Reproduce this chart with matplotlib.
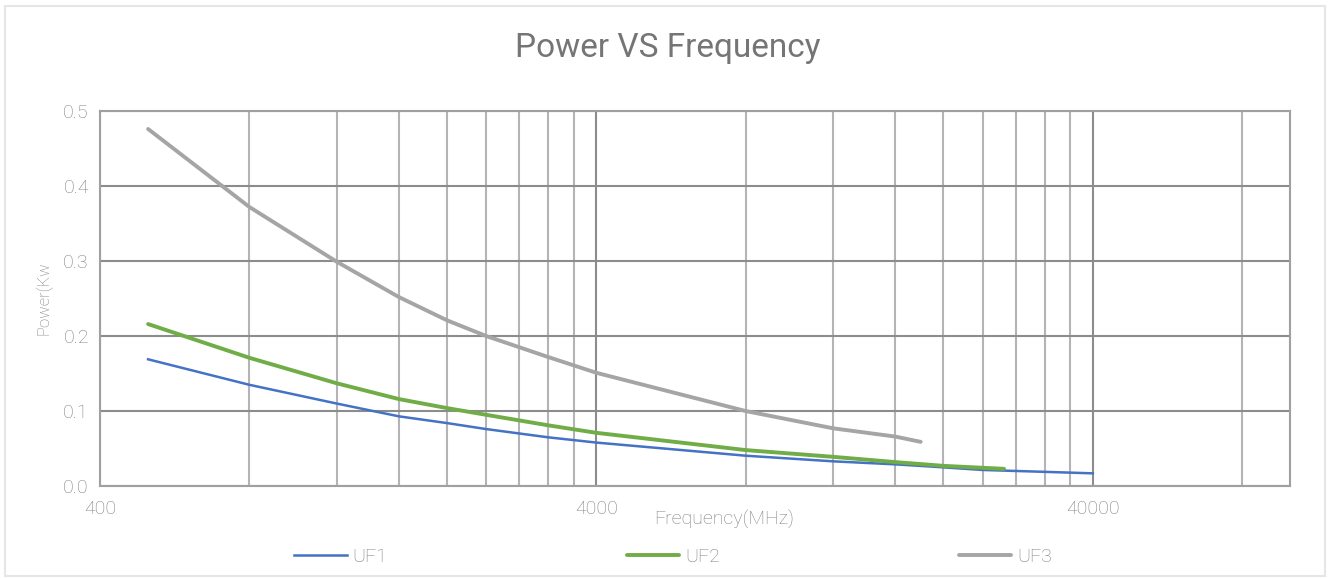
import matplotlib.pyplot as plt
import matplotlib.ticker as mticker
from matplotlib.patches import Rectangle
import numpy as np

plt.rcParams['font.family'] = ['Roboto', 'DejaVu Sans']
plt.rcParams['font.weight'] = 'light'

# values (frequency in MHz, power in kW)
freq_uf1 = [500, 800, 1200, 1600, 2000, 2400, 3200, 4000, 8000, 12000, 16000, 20000, 24000, 32000, 40000]
power_uf1 = [0.169, 0.135, 0.110, 0.093, 0.084, 0.076, 0.065, 0.058, 0.0405, 0.033, 0.029, 0.025, 0.0215, 0.019, 0.017]

freq_uf2 = [500, 800, 1200, 1600, 2000, 2400, 3200, 4000, 8000, 12000, 16000, 20000, 26500]
power_uf2 = [0.216, 0.171, 0.137, 0.116, 0.104, 0.095, 0.081, 0.071, 0.048, 0.039, 0.032, 0.027, 0.023]

freq_uf3 = [500, 800, 1200, 1600, 2000, 2400, 3200, 4000, 8000, 12000, 16000, 18000]
power_uf3 = [0.476, 0.372, 0.299, 0.252, 0.221, 0.200, 0.172, 0.151, 0.100, 0.077, 0.066, 0.059]

major_ticks = [400, 4000, 40000]
y_ticks = [0.0, 0.1, 0.2, 0.3, 0.4, 0.5]

txt = '#808080'

fig = plt.figure(figsize=(13.33, 5.78), dpi=100)
fig.patches.append(Rectangle((0.004, 0.004), 0.99, 0.985, transform=fig.transFigure,
                             fill=False, edgecolor='#e6e6e6', lw=1.5))
ax = fig.add_axes([0.075, 0.159, 0.893, 0.649])

ax.plot(freq_uf1, power_uf1, color='#4472C4', lw=1.8, label='UF1')
ax.plot(freq_uf2, power_uf2, color='#70AD47', lw=2.8, label='UF2', solid_capstyle='round')
ax.plot(freq_uf3, power_uf3, color='#A5A5A5', lw=2.8, label='UF3', solid_capstyle='round')

ax.set_xscale('log')
ax.set_xlim(400, 100000)
ax.set_ylim(0, 0.5)
ax.xaxis.set_major_locator(mticker.FixedLocator(major_ticks))
ax.xaxis.set_major_formatter(mticker.FixedFormatter([str(t) for t in major_ticks]))
minors = [m * 400 * 10 ** d for d in range(3) for m in range(2, 10)]
ax.xaxis.set_minor_locator(mticker.FixedLocator(minors))
ax.xaxis.set_minor_formatter(mticker.NullFormatter())
ax.set_yticks(y_ticks)
ax.yaxis.set_major_formatter(mticker.FormatStrFormatter('%.1f'))

ax.grid(True, which='major', axis='both', color='#8c8c8c', lw=1.5)
ax.grid(True, which='minor', axis='x', color='#b4b4b8', lw=1.5)
ax.set_axisbelow(True)
for s in ax.spines.values():
    s.set_color('#a0a0a0')
    s.set_linewidth(1.5)
ax.tick_params(which='both', length=0, colors=txt, labelsize=14)
ax.tick_params(axis='x', pad=10)
ax.tick_params(axis='y', pad=8)

fig.suptitle('Power VS Frequency', fontsize=24, color='#757575', x=0.501, y=0.945,
             fontweight='normal')
ax.set_xlabel('Frequency(MHz)', fontsize=14, color=txt, labelpad=-6, x=0.524,
              fontweight='light')
ax.set_ylabel('Power(Kw', fontsize=12, color=txt, labelpad=8, fontweight='light')

leg = fig.legend(loc='lower center', bbox_to_anchor=(0.505, -0.009), ncol=3, frameon=False,
                 fontsize=14, columnspacing=12.3, handlelength=2.7, handletextpad=0.3,
                 labelcolor=txt)

plt.savefig('out.png', dpi=100)
